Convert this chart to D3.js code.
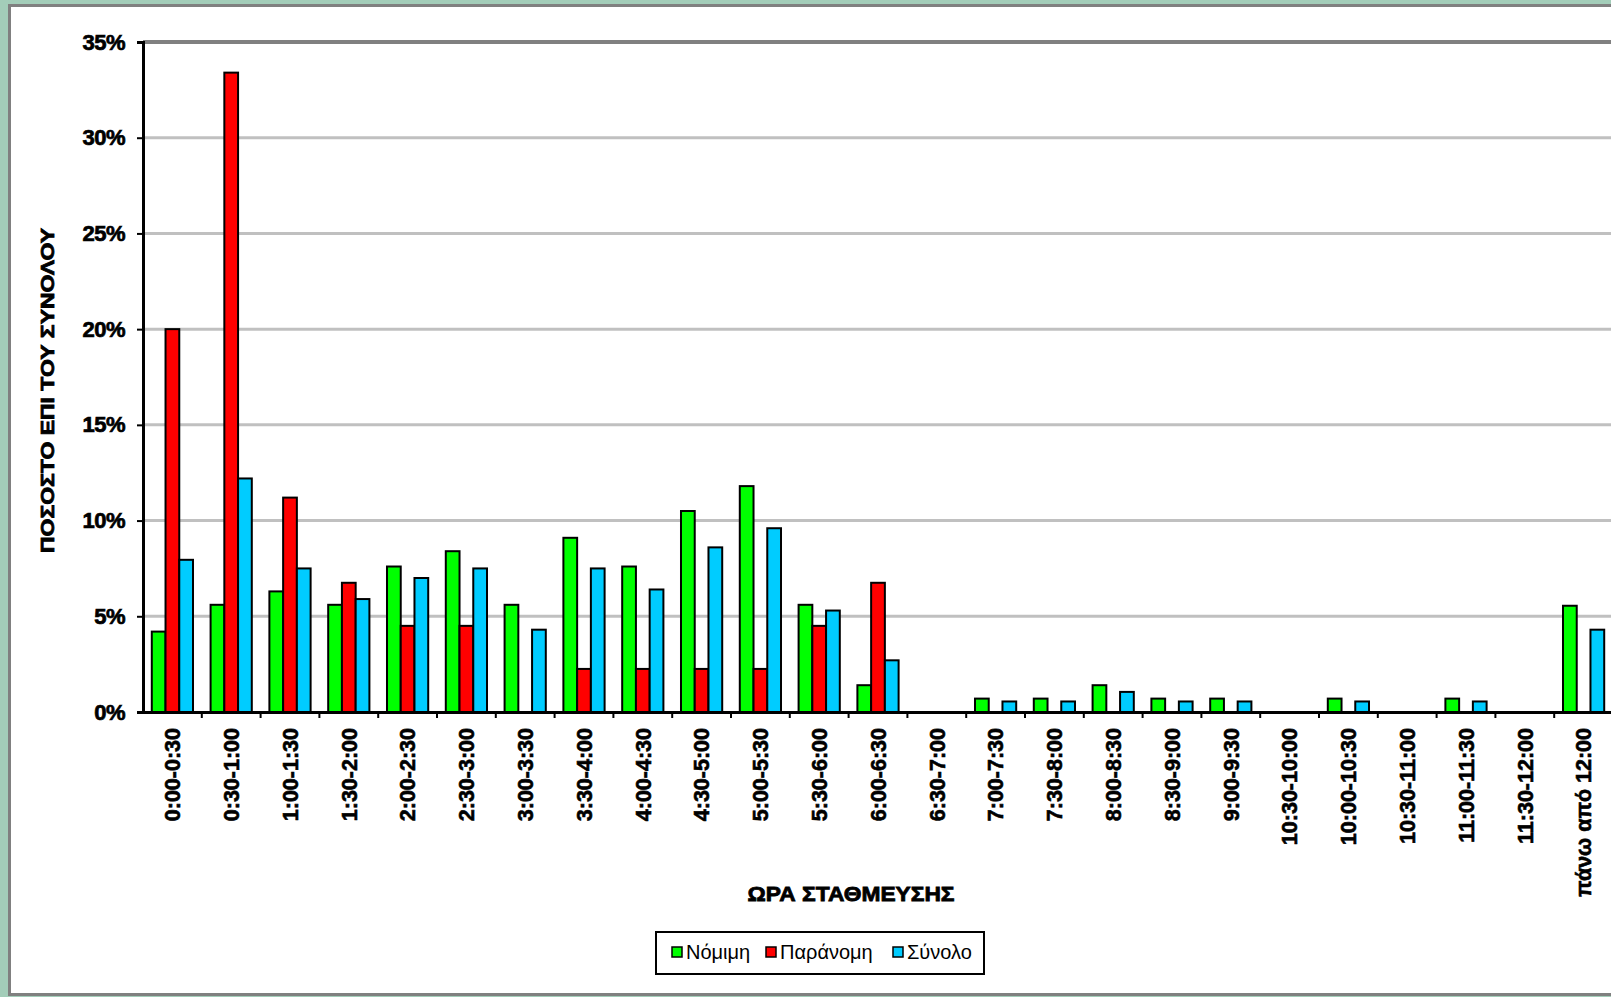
<!DOCTYPE html>
<html>
<head>
<meta charset="utf-8">
<script src="https://cdn.jsdelivr.net/npm/d3@7"></script>
<style>
  body { margin: 0; background: #a3cdb9; }
  svg { display: block; font-family: "Liberation Sans", Arial, sans-serif; }
</style>
</head>
<body>
<script>
// categories (time of parking)
var categories = ["0:00-0:30", "0:30-1:00", "1:00-1:30", "1:30-2:00", "2:00-2:30", "2:30-3:00",
  "3:00-3:30", "3:30-4:00", "4:00-4:30", "4:30-5:00", "5:00-5:30", "5:30-6:00", "6:00-6:30",
  "6:30-7:00", "7:00-7:30", "7:30-8:00", "8:00-8:30", "8:30-9:00", "9:00-9:30", "10:30-10:00",
  "10:00-10:30", "10:30-11:00", "11:00-11:30", "11:30-12:00", "πάνω από 12:00"];

var seriesNames = ["Νόμιμη", "Παράνομη", "Σύνολο"];
var seriesColors = ["#00ff00", "#ff0000", "#00ccff"];

// values in %
var nomimi = [4.2, 5.6, 6.3, 5.6, 7.6, 8.4, 5.6, 9.1, 7.6, 10.5, 11.8, 5.6, 1.4,
  0, 0.7, 0.7, 1.4, 0.7, 0.7, 0, 0.7, 0, 0.7, 0, 5.55];
var paranomi = [20.0, 33.4, 11.2, 6.75, 4.5, 4.5, 0, 2.25, 2.25, 2.25, 2.25, 4.5, 6.75,
  0, 0, 0, 0, 0, 0, 0, 0, 0, 0, 0, 0];
var synolo = [7.95, 12.2, 7.5, 5.9, 7.0, 7.5, 4.3, 7.5, 6.4, 8.6, 9.6, 5.3, 2.7,
  0, 0.55, 0.55, 1.05, 0.55, 0.55, 0, 0.55, 0, 0.55, 0, 4.3];

var yTicks = [0, 5, 10, 15, 20, 25, 30, 35];

var W = 1611, H = 997;
var plot = { left: 143, top: 42, right: 1613, bottom: 712 };

var svg = d3.select('body').append('svg')
    .attr('width', W)
    .attr('height', H);

// chart area
svg.append('rect')
    .attr('x', 9.5).attr('y', 5.5)
    .attr('width', W + 20).attr('height', 989)
    .attr('fill', '#ffffff')
    .attr('stroke', '#808080')
    .attr('stroke-width', 3);

var xScale = d3.scaleBand()
    .domain(categories)
    .range([plot.left, plot.right])
    .padding(0);

var x1 = d3.scaleBand()
    .domain(seriesNames)
    .range([0, xScale.bandwidth()])
    .paddingInner(0)
    .paddingOuter(0.64);

var yScale = d3.scaleLinear()
    .domain([0, 35])
    .range([plot.bottom, plot.top]);

// gridlines
svg.append('g')
    .selectAll('line')
    .data(yTicks.filter(function (d) { return d > 0 && d < 35; }))
    .enter().append('line')
    .attr('x1', plot.left).attr('x2', W)
    .attr('y1', function (d) { return yScale(d); })
    .attr('y2', function (d) { return yScale(d); })
    .attr('stroke', '#c0c0c0')
    .attr('stroke-width', 3);

// top border of plot area
svg.append('line')
    .attr('x1', plot.left).attr('x2', W)
    .attr('y1', plot.top).attr('y2', plot.top)
    .attr('stroke', '#808080')
    .attr('stroke-width', 4);

// bars
var rows = categories.map(function (c, i) {
    return { cat: c, vals: [nomimi[i], paranomi[i], synolo[i]] };
});

var groups = svg.append('g')
    .selectAll('g')
    .data(rows)
    .enter().append('g')
    .attr('transform', function (d) { return 'translate(' + xScale(d.cat) + ',0)'; });

groups.selectAll('rect')
    .data(function (d) {
        return d.vals.map(function (v, j) { return { s: seriesNames[j], v: v, j: j }; });
    })
    .enter().append('rect')
    .attr('x', function (d) { return x1(d.s); })
    .attr('y', function (d) { return yScale(d.v); })
    .attr('width', x1.bandwidth())
    .attr('height', function (d) { return plot.bottom - yScale(d.v); })
    .attr('fill', function (d) { return seriesColors[d.j]; })
    .attr('stroke', '#000')
    .attr('stroke-width', 2);

// Y axis
var yAxis = d3.axisLeft(yScale)
    .tickValues(yTicks)
    .tickSize(6)
    .tickFormat(function (d) { return d + '%'; });

var gy = svg.append('g')
    .attr('transform', 'translate(' + plot.left + ',0)')
    .call(yAxis);
gy.select('.domain').attr('stroke', '#000').attr('stroke-width', 3);
gy.selectAll('.tick line').attr('stroke', '#000').attr('stroke-width', 2);
gy.selectAll('.tick text')
    .attr('x', -18)
    .attr('fill', '#000')
    .attr('stroke', '#000')
    .attr('stroke-width', 0.7)
    .style('font-size', '22px')
    .style('font-weight', 'bold')
    .style('letter-spacing', '-0.5px');

// X axis
var xAxis = d3.axisBottom(xScale)
    .tickSize(0);

var gx = svg.append('g')
    .attr('transform', 'translate(0,' + plot.bottom + ')')
    .call(xAxis);
gx.select('.domain').attr('stroke', '#000').attr('stroke-width', 3);
gx.selectAll('.tick text')
    .attr('fill', '#000')
    .attr('stroke', '#000')
    .attr('stroke-width', 0.6)
    .attr('transform', 'rotate(-90)')
    .attr('x', -16)
    .attr('y', 0)
    .attr('dy', '0.36em')
    .style('text-anchor', 'end')
    .style('font-size', '21.5px')
    .style('font-weight', 'bold');

// tick marks between categories
svg.append('g')
    .selectAll('line')
    .data(categories)
    .enter().append('line')
    .attr('x1', function (d) { return xScale(d) + xScale.bandwidth(); })
    .attr('x2', function (d) { return xScale(d) + xScale.bandwidth(); })
    .attr('y1', plot.bottom)
    .attr('y2', plot.bottom + 6)
    .attr('stroke', '#000')
    .attr('stroke-width', 2);

// axis titles
svg.append('text')
    .attr('transform', 'translate(54,' + ((228 + 553) / 2) + ') rotate(-90)')
    .attr('text-anchor', 'middle')
    .attr('textLength', 325)
    .attr('lengthAdjust', 'spacingAndGlyphs')
    .attr('stroke', '#000')
    .attr('stroke-width', 0.8)
    .style('font-size', '19px')
    .style('font-weight', 'bold')
    .text('ΠΟΣΟΣΤΟ ΕΠΙ ΤΟΥ ΣΥΝΟΛΟΥ');

svg.append('text')
    .attr('x', 851)
    .attr('y', 901)
    .attr('text-anchor', 'middle')
    .attr('textLength', 207)
    .attr('lengthAdjust', 'spacingAndGlyphs')
    .attr('stroke', '#000')
    .attr('stroke-width', 0.8)
    .style('font-size', '21px')
    .style('font-weight', 'bold')
    .text('ΩΡΑ ΣΤΑΘΜΕΥΣΗΣ');

// legend
var legend = svg.append('g');
legend.append('rect')
    .attr('x', 656).attr('y', 932)
    .attr('width', 328).attr('height', 42)
    .attr('fill', '#fff')
    .attr('stroke', '#000')
    .attr('stroke-width', 2);

var legendX = [672, 766, 893];
var items = legend.selectAll('g.item')
    .data(seriesNames)
    .enter().append('g')
    .attr('class', 'item')
    .attr('transform', function (d, i) { return 'translate(' + legendX[i] + ',947)'; });

items.append('rect')
    .attr('width', 10).attr('height', 10)
    .attr('fill', function (d, i) { return seriesColors[i]; })
    .attr('stroke', '#000')
    .attr('stroke-width', 1.5);

items.append('text')
    .attr('x', 14)
    .attr('y', 5)
    .attr('dy', '0.36em')
    .style('font-size', '20px')
    .text(function (d) { return d; });
</script>
</body>
</html>
